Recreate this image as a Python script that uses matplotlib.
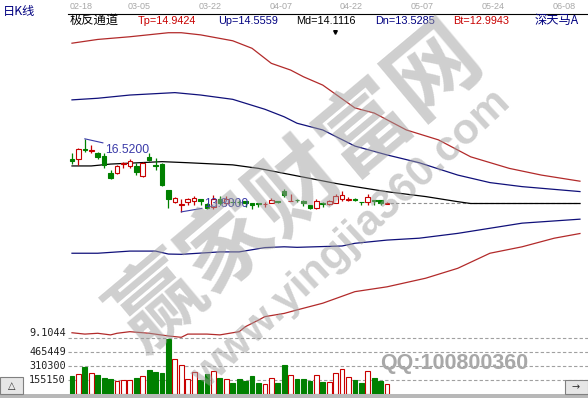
import matplotlib
matplotlib.use('Agg')
import matplotlib.pyplot as plt
from matplotlib.patches import Rectangle
from matplotlib.transforms import blended_transform_factory
import numpy as np

plt.rcParams['font.family'] = ['Liberation Sans', 'Noto Sans CJK SC', 'DejaVu Sans']

W, H = 588, 398
CJK = ['Noto Sans CJK SC', 'DejaVu Sans']

# ---- daily K-line data ----
opens = [15.77, 15.76, 16.14, 16.07, 15.98, 15.88, 15.24, 15.24, 15.58, 15.51,
         15.51, 15.14, 15.85, 15.53, 15.58, 14.61, 14.18, 14.06, 14.17, 14.19,
         14.29, 14.08, 13.97, 14.27, 14.12, 14.18, 14.18, 14.19, 14.14, 14.13,
         14.08, 14.12, 14.19, 14.59, 14.19, 14.26, 14.22, 14.07, 13.94, 14.13,
         14.09, 14.12, 14.29, 14.26, 14.28, 14.18, 14.17, 14.23, 14.24, 14.11]
highs = [15.99, 16.18, 16.52, 16.29, 16.04, 15.98, 15.36, 15.55, 15.67, 15.76,
         15.63, 15.66, 15.98, 15.79, 15.62, 14.61, 14.35, 14.27, 14.31, 14.39,
         14.29, 14.14, 14.42, 14.39, 14.39, 14.27, 14.24, 14.19, 14.14, 14.13,
         14.17, 14.32, 14.19, 14.65, 14.46, 14.29, 14.24, 14.07, 14.29, 14.17,
         14.24, 14.46, 14.57, 14.37, 14.33, 14.18, 14.46, 14.23, 14.24, 14.15]
lows = [15.58, 15.56, 16.04, 15.98, 15.76, 15.42, 15.04, 15.21, 15.42, 15.42,
        15.17, 15.09, 15.71, 15.36, 14.76, 13.93, 14.12, 13.80, 14.07, 14.07,
        14.07, 13.89, 13.89, 14.04, 14.07, 14.04, 14.06, 13.99, 13.92, 13.99,
        13.97, 14.12, 14.12, 14.35, 14.19, 14.17, 14.02, 13.89, 13.89, 13.97,
        14.04, 14.12, 14.22, 14.19, 14.19, 14.07, 14.07, 14.07, 14.07, 14.08]
closes = [15.69, 16.13, 16.10, 16.12, 15.83, 15.55, 15.05, 15.51, 15.62, 15.71,
          15.30, 15.63, 15.73, 15.49, 14.80, 14.27, 14.31, 14.09, 14.27, 14.32,
          14.19, 13.93, 14.27, 14.12, 14.27, 14.16, 14.15, 14.12, 14.07, 14.11,
          14.10, 14.24, 14.17, 14.42, 14.21, 14.23, 14.12, 13.94, 14.19, 14.11,
          14.19, 14.39, 14.42, 14.27, 14.26, 14.16, 14.36, 14.21, 14.12, 14.12]
volumes = [203000, 222000, 303000, 236000, 214000, 181000, 166000, 147000, 155000, 155000,
           177000, 199000, 266000, 244000, 229000, 615000, 385000, 325000, 163000, 244000,
           155000, 225000, 252000, 177000, 163000, 125000, 163000, 147000, 199000, 125000,
           111000, 177000, 125000, 325000, 207000, 163000, 163000, 147000, 207000, 133000,
           133000, 229000, 280000, 185000, 155000, 125000, 258000, 177000, 147000, 111000]

date_labels = ['02-18', '03-05', '03-22', '04-07', '04-22', '05-07', '05-24', '06-08']
date_pos = [0, 9, 20, 31, 42, 53, 64, 75]

# ---- 极反通道 band lines (bar index, price) ----
tp_idx = [0, 4, 9, 15, 17, 20, 25, 28, 31, 34, 36, 39, 44, 47, 52, 57, 62, 68, 73, 79]
tp_val = [20.08, 20.22, 20.32, 20.47, 20.47, 20.39, 20.17, 19.89, 19.33, 19.08,
          18.83, 18.52, 17.67, 17.48, 16.85, 16.48, 15.85, 15.42, 15.17, 14.9424]
up_idx = [0, 4, 9, 16, 20, 25, 30, 33, 35, 39, 44, 49, 54, 60, 65, 70, 79]
up_val = [17.97, 18.03, 18.15, 18.24, 18.15, 17.99, 17.62, 17.34, 17.10, 16.85,
          16.25, 15.92, 15.63, 15.17, 14.89, 14.74, 14.5559]
md_idx = [0, 3, 6, 14, 18, 25, 29, 35, 41, 44, 49, 55, 60, 62, 79]
md_val = [15.51, 15.51, 15.58, 15.67, 15.63, 15.55, 15.42, 15.14, 14.86, 14.74,
          14.55, 14.37, 14.18, 14.1116, 14.1116]
dn_idx = [0, 4, 9, 13, 15, 17, 23, 26, 30, 33, 35, 42, 44, 49, 54, 60, 65, 70, 79]
dn_val = [12.26, 12.26, 12.34, 12.34, 12.23, 12.22, 12.31, 12.31, 12.47, 12.50,
          12.48, 12.53, 12.63, 12.75, 12.82, 13.00, 13.19, 13.38, 13.5285]
bt_idx = [0, 2, 4, 6, 7, 9, 12, 15, 17, 18, 21, 23, 25, 26, 27, 29, 30, 33, 35,
          39, 44, 49, 55, 60, 65, 70, 75, 79]
bt_val = [9.30, 9.25, 9.28, 9.22, 9.28, 9.34, 9.28, 9.18, 9.13, 9.25, 9.25, 9.22,
          9.30, 9.34, 9.53, 9.77, 9.90, 10.02, 10.15, 10.40, 10.83, 11.01, 11.33,
          11.70, 12.26, 12.50, 12.82, 12.9943]

vol_ticks = [155150, 310300, 465449]
price_floor = 9.1044

RED = '#c80000'
GREEN = '#008000'
NAVY = '#000080'
BAND_RED = '#b22a2a'
BAND_BLUE = '#10107a'
MARK = '#3a3aa8'


def fx(x):
    return x / W


def fy(y):
    return 1 - y / H


fig = plt.figure(figsize=(W / 100, H / 100), dpi=100)
fig.patch.set_facecolor('white')

XL = (-0.62, 80.25)
ax = fig.add_axes([fx(68), fy(338), fx(588) - fx(68), (338 - 27) / H])
ax.set_xlim(*XL)
ax.set_ylim(price_floor, 20.683)
ax.axis('off')

axv = fig.add_axes([fx(68), fy(394), fx(588) - fx(68), (394 - 338) / H])
axv.set_xlim(*XL)
axv.set_ylim(0, 620600)
axv.axis('off')

o = np.array(opens)
c = np.array(closes)
hi = np.array(highs)
lo = np.array(lows)
x = np.arange(len(o))
rise = c >= o
cols = np.where(rise, RED, GREEN)

# band lines
ax.plot(tp_idx, tp_val, color=BAND_RED, lw=0.9, zorder=2)
ax.plot(up_idx, up_val, color=BAND_BLUE, lw=0.9, zorder=2)
ax.plot(md_idx, md_val, color='black', lw=0.9, zorder=2)
ax.plot(dn_idx, dn_val, color=BAND_BLUE, lw=0.9, zorder=2)
ax.plot(bt_idx, bt_val, color=BAND_RED, lw=0.9, zorder=2)

# last close reference line
ax.plot([len(o) - 0.5, 79], [c[-1], c[-1]], color='#909090', lw=0.8,
        ls=(0, (3, 2)), zorder=1)

# candles
ax.vlines(x, lo, hi, colors=cols, lw=0.9, zorder=3)
body_h = np.maximum(np.abs(c - o), 0.004)
ax.bar(x, body_h, bottom=np.minimum(o, c), width=0.72,
       color=np.where(rise, 'white', GREEN), edgecolor=cols, linewidth=0.8,
       zorder=4)

# high / low markers
ih = int(np.argmax(hi))
ax.plot([ih, ih + 2.8], [hi[ih], hi[ih] - 0.15], color=MARK, lw=0.8, zorder=5)
ax.text(ih + 3.1, hi[ih] - 0.42, f'{hi[ih]:.4f}', color=MARK, fontsize=8.8,
        va='center', ha='left', zorder=6)
il = int(np.argmin(lo))
ax.plot([il, il + 3.2], [lo[il], lo[il] + 0.13], color=MARK, lw=0.8, zorder=5)
ax.text(il + 3.6, lo[il] + 0.29, f'{lo[il]:.4f}', color=MARK, fontsize=8.8,
        va='center', ha='left', zorder=6)

# volume
for v in vol_ticks + [620600]:
    axv.axhline(v, color='#a0a0a0', lw=0.8, ls=(0, (3, 2)), clip_on=False, zorder=1)
axv.bar(x, volumes, width=0.74, color=np.where(rise, 'white', GREEN),
        edgecolor=cols, linewidth=0.8, zorder=3)

lbl_tr = blended_transform_factory(fig.transFigure, axv.transData)
for v in vol_ticks:
    axv.text(fx(66), v, f'{v}', transform=lbl_tr, ha='right', va='center',
             fontsize=7.3, family='DejaVu Sans Mono', color='#202020')
fig.text(fx(66), fy(333), f'{price_floor:.4f}', ha='right', va='center',
         fontsize=7.3, family='DejaVu Sans Mono', color='#202020')

# top date strip
date_tr = blended_transform_factory(ax.transData, fig.transFigure)
for p, s in zip(date_pos, date_labels):
    ax.text(p - 0.3, fy(6.5), s, transform=date_tr, ha='left', va='center',
            fontsize=6.5, color='#a8a8a8', clip_on=False)
fig.add_artist(plt.Line2D([fx(68), 1], [fy(13.5), fy(13.5)], color='black',
                          lw=0.8, transform=fig.transFigure))

fig.text(fx(3), fy(12), '日K线', color=NAVY, fontsize=8.8, family=CJK,
         va='center', ha='left')

# indicator header
fig.text(fx(70), fy(20.5), '极反通道', color='black', fontsize=8.8, family=CJK,
         va='center', ha='left')
header = [(138, f'Tp={tp_val[-1]:.4f}', RED),
          (218, f'Up={up_val[-1]:.4f}', NAVY),
          (296, f'Md={md_val[-1]:.4f}', 'black'),
          (375, f'Dn={dn_val[-1]:.4f}', NAVY),
          (453, f'Bt={bt_val[-1]:.4f}', RED)]
for px, s, col in header:
    fig.text(fx(px), fy(20.5), s, color=col, fontsize=7.8, va='center', ha='left')
fig.text(fx(535), fy(20.5), '深天马A', color=NAVY, fontsize=8.8, family=CJK,
         va='center', ha='left')
fig.add_artist(plt.Line2D([fx(335)], [fy(31.5)], marker='v', markersize=2.6,
                          color='black', transform=fig.transFigure))

# bottom scroll strip and buttons
fig.add_artist(Rectangle((0, 0), 1, fy(394), transform=fig.transFigure,
                         facecolor='#b8b8b8', edgecolor='none', zorder=5))
fig.add_artist(Rectangle((0, fy(394)), fx(23), (394 - 377) / H,
                         transform=fig.transFigure, facecolor='#e6e6e6',
                         edgecolor='#808080', lw=0.8, zorder=6))
fig.text(fx(11.5), fy(385.5), '△', ha='center', va='center', fontsize=7,
         family='DejaVu Sans', color='#303030', zorder=7)
fig.add_artist(Rectangle((fx(565), fy(394)), fx(588) - fx(565), (394 - 380) / H,
                         transform=fig.transFigure, facecolor='#e6e6e6',
                         edgecolor='#808080', lw=0.8, zorder=6))
fig.text(fx(576), fy(387), '→', ha='center', va='center', fontsize=7,
         family='DejaVu Sans', color='#303030', zorder=7)

# site watermark
fig.text(fx(298), fy(188), '赢家财富网', rotation=40, rotation_mode='anchor',
         ha='center', va='center', fontsize=65, weight='bold', family=CJK,
         color='#a0a0a0', alpha=0.5, zorder=10)
fig.text(fx(352), fy(240), 'www.yingjia360.com', rotation=43,
         rotation_mode='anchor', ha='center', va='center', fontsize=31,
         weight='bold', color='#a0a0a0', alpha=0.5, zorder=10)
fig.text(fx(380), fy(363), 'QQ:100800360', ha='left', va='center', fontsize=15.5,
         weight='bold', color='#a8a8a8', zorder=10)

fig.savefig('out.png', dpi=100, facecolor='white')
